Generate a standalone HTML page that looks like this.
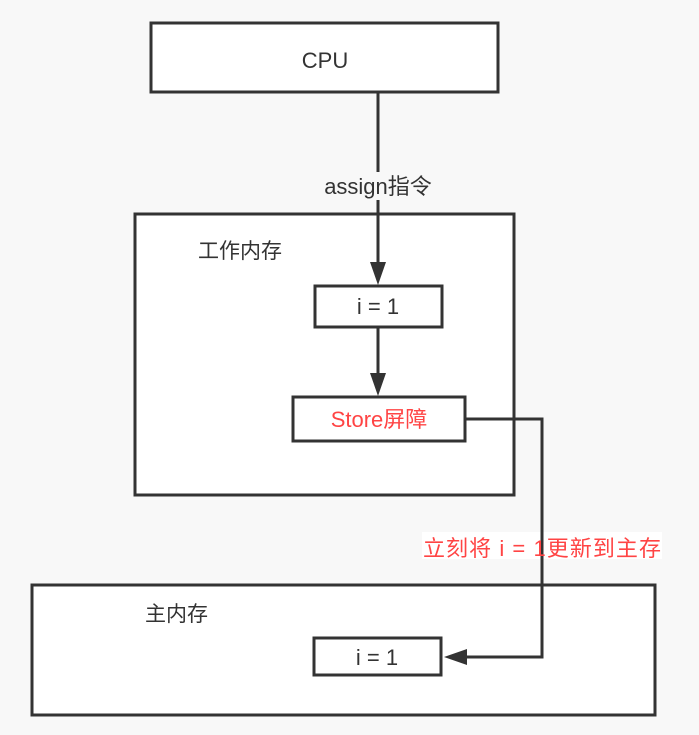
<!DOCTYPE html>
<html><head><meta charset="utf-8"><style>
body{margin:0;background:#f8f8f8;}
svg{display:block;font-family:"Liberation Sans","Noto Sans CJK SC",sans-serif;}
</style></head><body>
<svg width="699" height="735" viewBox="0 0 699 735">
<rect x="0" y="0" width="699" height="735" fill="#f8f8f8"/>
<g stroke="#333" stroke-width="3" fill="#fff">
<rect x="151" y="23" width="347" height="69"/>
<rect x="135" y="214" width="379" height="281"/>
<rect x="32" y="585" width="623" height="130"/>
<rect x="315" y="286" width="127" height="41"/>
<rect x="293" y="397" width="172" height="44"/>
<rect x="314" y="638" width="127" height="37"/>
</g>
<g stroke="#333" stroke-width="3" fill="none">
<line x1="378" y1="92" x2="378" y2="266"/>
<line x1="378" y1="327" x2="378" y2="378"/>
<polyline points="465,419 542,419 542,657 460,657"/>
</g>
<g fill="#333">
<polygon points="370,262 386,262 378,285"/>
<polygon points="370,373 386,373 378,396"/>
<polygon points="444,657 467,649 467,665"/>
</g>
<rect x="320" y="172" width="117" height="28" fill="#f8f8f8"/>
<rect x="422" y="532" width="240" height="27" fill="#fff"/>
<line x1="542" y1="532" x2="542" y2="559" stroke="#333" stroke-width="3"/>
<g font-size="22" text-anchor="middle">
<text x="325" y="68" fill="#333">CPU</text>
<text x="378" y="194" fill="#333">assign指令</text>
<text x="378" y="314" fill="#333">i = 1</text>
<text x="379" y="427" fill="#f44">Store屏障</text>
<text x="377" y="665" fill="#333">i = 1</text>
<text x="542" y="556" fill="#f44" textLength="238">立刻将 i = 1更新到主存</text>
</g>
<g font-size="21" fill="#333">
<text x="198" y="258">工作内存</text>
<text x="145" y="621">主内存</text>
</g>
</svg>
</body></html>
